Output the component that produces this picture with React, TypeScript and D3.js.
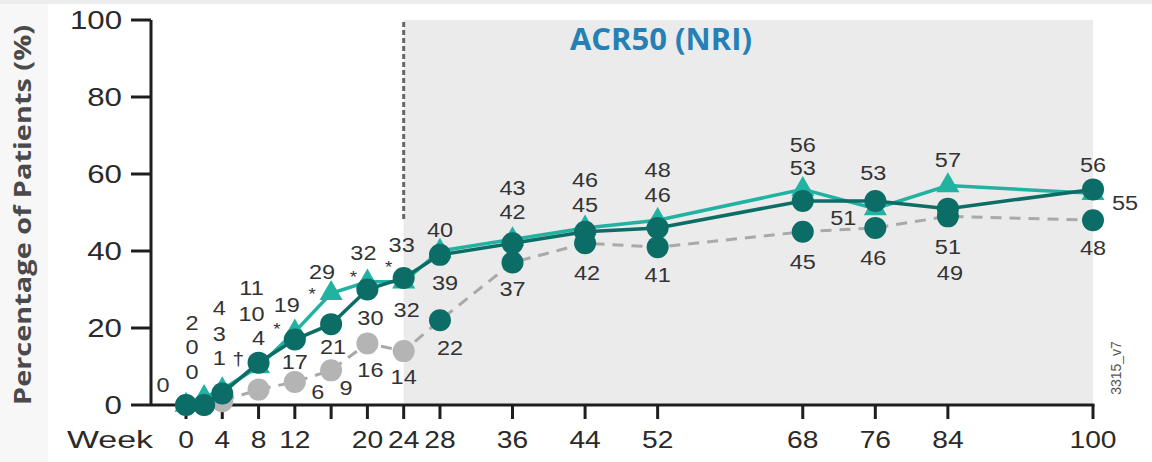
import React from "react";
import * as d3 from "d3";

const weeks = [0, 2, 4, 8, 12, 16, 20, 24, 28, 36, 44, 52, 68, 76, 84, 100];
const triVals = [0, 2, 4, 10, 19, 29, 32, 32, 40, 43, 46, 48, 56, 51, 57, 55];
const circVals = [0, 0, 3, 11, 17, 21, 30, 33, 39, 42, 45, 46, 53, 53, 51, 56];
const placVals = [0, 0, 1, 4, 6, 9, 16, 14, 22, 37, 42, 41, 45, 46, 49, 48];
const switchWeek = 24;

const xTicks = [0, 4, 8, 12, 16, 20, 24, 28, 36, 44, 52, 68, 76, 84, 100];
const xTickLabels = [0, 4, 8, 12, 20, 24, 28, 36, 44, 52, 68, 76, 84, 100];
const yTicks = [0, 20, 40, 60, 80, 100];

const title = "ACR50 (NRI)";
const yTitle = "Percentage of Patients (%)";
const xTitle = "Week";
const footnote = "3315_v7";

// label layout offsets (dx, dy) relative to each point
type Off = [number, number] | null;
const triOff: Off[] = [null, [-12, -74], [-3, -82], [-7, -53], [-8, -27], [-9, -21], [-4, -29], [3, 28], [0, -21], [0, -52], [0, -48], [0, -50], [0, -44], [-32, 9], [0, -26], [32, 10]];
const circOff: Off[] = [[-23, -20], [-12, -58], [-3, -60], [-7, -75], [0, 22], [2, 23], [3, 28], [-2, -33], [5, 28], [0, -31], [0, -27], [0, -33], [0, -33], [-2, -28], [0, 38], [0, -24]];
const placOff: Off[] = [null, [-12, -33], [-3, -43], [0, -52], [23, 10], [15, 18], [3, 27], [0, 26], [10, 28], [0, 26], [2, 30], [0, 28], [0, 30], [-2, 30], [2, 57], [0, 28]];
// significance marks: [series, index, dx, dy, symbol]
const marks: [string, number, number, number, string][] = [
  ["tri", 4, -18, -7, "*"],
  ["tri", 5, -19, -3, "*"],
  ["tri", 6, -14, -9, "*"],
  ["circ", 7, -15, -15, "*"],
  ["plac", 2, 16, -43, "†"],
];

const DARK = "#0c6c66";
const LIGHT = "#21b2a2";
const GRAY = "#b4b4b4";
const DASH = "#a9a9a9";
const TXT = "#333333";

export default function App() {
  const W = 1152, H = 462;
  const x = d3.scaleLinear().domain([0, 100]).range([186, 1093]);
  const y = d3.scaleLinear().domain([0, 100]).range([405, 20]);
  const line = d3.line<[number, number]>().x((d) => x(d[0])).y((d) => y(d[1]));
  const tri = weeks.map((w, i) => [w, triVals[i]] as [number, number]);
  const circ = weeks.map((w, i) => [w, circVals[i]] as [number, number]);
  const plac = weeks.map((w, i) => [w, placVals[i]] as [number, number]);
  const triSym = d3.symbol().type(d3.symbolTriangle).size(230)() as string;
  const series: Record<string, [number, number][]> = { tri, circ, plac };

  const label = (t: string, cx: number, cy: number, key: string, size = 21, sx = 1.12, anchor = "middle") => (
    <text key={key} transform={`translate(${cx},${cy}) scale(${sx},1)`} fontFamily="'Liberation Sans', Arial, sans-serif" fontSize={size} fill={TXT} textAnchor={anchor} dominantBaseline="central">{t}</text>
  );

  const pointLabels = (data: [number, number][], offs: Off[], name: string) =>
    data.map((d, i) => {
      const o = offs[i];
      if (!o) return null;
      return label(String(d[1]), x(d[0]) + o[0], y(d[1]) + o[1], `${name}-${i}`);
    });

  return (
    <svg width={W} height={H} style={{ position: "absolute", left: 0, top: 0 }} xmlns="http://www.w3.org/2000/svg">
      <rect x={0} y={0} width={W} height={H} fill="#ffffff" />
      <rect x={0} y={0} width={W} height={4} fill="#ececec" />
      <rect x={0} y={4} width={48} height={H - 4} fill="#f7f7f7" />
      {/* shaded extension period */}
      <rect x={x(switchWeek)} y={y(100)} width={x(100) - x(switchWeek)} height={y(0) - y(100)} fill="#ebebeb" />
      <line x1={x(switchWeek)} x2={x(switchWeek)} y1={22} y2={222} stroke="#666" strokeWidth={3} strokeDasharray="5 3" />

      {/* title */}
      <text x={661} y={50} textAnchor="middle" fontFamily="'Open Sans', sans-serif" fontWeight={700} fontSize={31} fill="#2580b6">{title}</text>
      <text transform="translate(31,215) rotate(-90)" textAnchor="middle" fontFamily="'Open Sans', sans-serif" fontWeight={700} fontSize={24} fill="#4a4a4a" textLength={380} lengthAdjust="spacingAndGlyphs">{yTitle}</text>

      {/* axes */}
      <line x1={151} x2={151} y1={y(100)} y2={y(0)} stroke="#1e1e1e" strokeWidth={3} />
      <line x1={151} x2={x(100) + 1.5} y1={y(0)} y2={y(0)} stroke="#1e1e1e" strokeWidth={3} />
      {yTicks.map((t) => (
        <g key={`yt${t}`}>
          <line x1={131} x2={151} y1={y(t)} y2={y(t)} stroke="#1e1e1e" strokeWidth={3} />
          <text transform={`translate(122,${y(t)}) scale(1.25,1)`} textAnchor="end" dominantBaseline="central" fontFamily="'Liberation Sans', Arial, sans-serif" fontSize={25} fill="#2a2a2a">{t}</text>
        </g>
      ))}
      {xTicks.map((t) => (
        <line key={`xt${t}`} x1={x(t)} x2={x(t)} y1={y(0)} y2={y(0) + 14} stroke="#1e1e1e" strokeWidth={3} />
      ))}
      {xTickLabels.map((t) => (
        <text key={`xl${t}`} transform={`translate(${x(t)},448) scale(1.2,1)`} textAnchor="middle" fontFamily="'Liberation Sans', Arial, sans-serif" fontSize={23.5} fill="#2a2a2a">{t}</text>
      ))}
      <text x={110} y={448} textAnchor="middle" fontFamily="'Liberation Sans', Arial, sans-serif" fontSize={23.5} fill="#2a2a2a" textLength={86} lengthAdjust="spacingAndGlyphs">{xTitle}</text>
      <text transform="translate(1121,368) rotate(-90)" textAnchor="middle" fontFamily="'Liberation Sans', Arial, sans-serif" fontSize={14} fill="#555">{footnote}</text>

      {/* placebo -> switch (dashed) */}
      <path d={line(plac) as string} fill="none" stroke={DASH} strokeWidth={3} strokeDasharray="11 8" />
      {plac.map((d, i) => (
        <circle key={`pc${i}`} cx={x(d[0])} cy={y(d[1])} r={11} fill={d[0] <= switchWeek ? GRAY : DARK} />
      ))}
      {/* triangle series */}
      <path d={line(tri) as string} fill="none" stroke={LIGHT} strokeWidth={3.5} />
      {tri.map((d, i) => (
        <path key={`tr${i}`} d={triSym} transform={`translate(${x(d[0])},${y(d[1])})`} fill={LIGHT} />
      ))}
      {/* circle series */}
      <path d={line(circ) as string} fill="none" stroke={DARK} strokeWidth={3.5} />
      {circ.map((d, i) => (
        <circle key={`cc${i}`} cx={x(d[0])} cy={y(d[1])} r={11} fill={DARK} />
      ))}

      {/* data labels */}
      {pointLabels(tri, triOff, "tl")}
      {pointLabels(circ, circOff, "cl")}
      {pointLabels(plac, placOff, "pl")}
      {marks.map(([s, i, dx, dy, sym], k) => {
        const d = series[s][i];
        return label(sym, x(d[0]) + dx, y(d[1]) + dy + (sym === "*" ? 4 : 0), `m${k}`, sym === "*" ? 17 : 19, 1.1);
      })}
    </svg>
  );
}
